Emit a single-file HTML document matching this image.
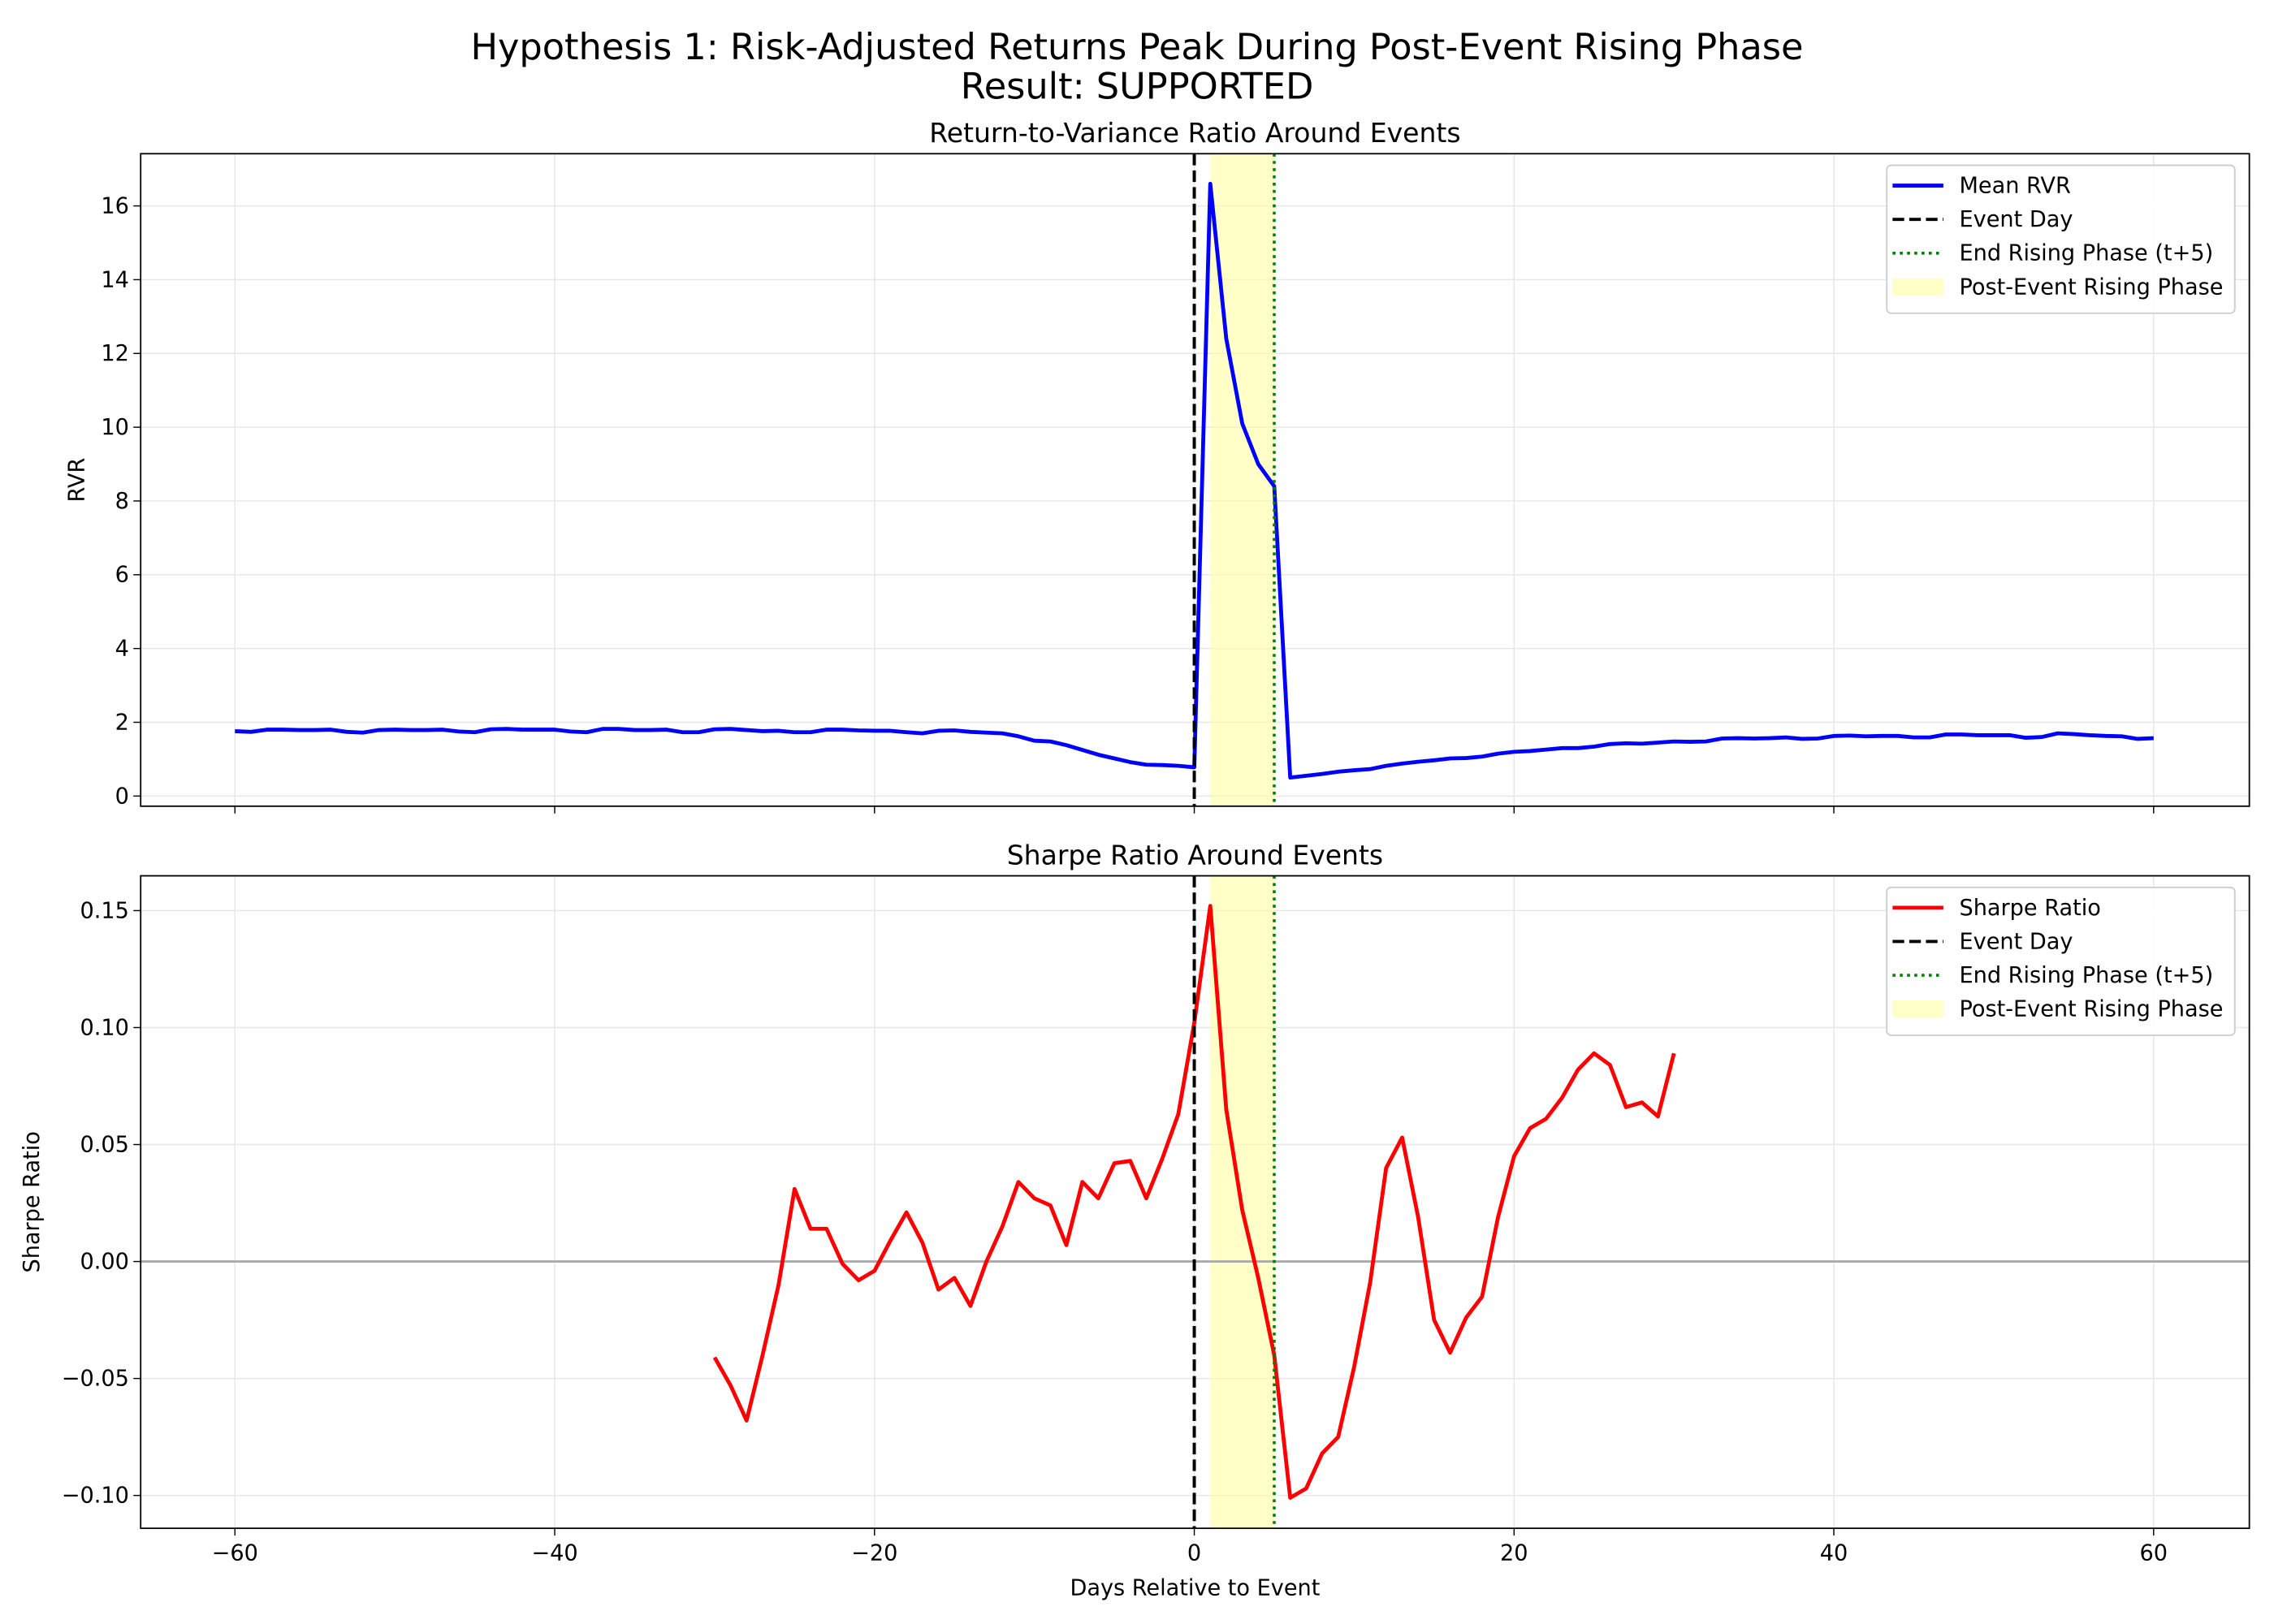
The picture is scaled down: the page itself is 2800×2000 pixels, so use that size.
<!DOCTYPE html>
<html><head><meta charset="utf-8"><style>
html,body{margin:0;padding:0;background:#fff}
svg{display:block;font-family:"DejaVu Sans","Liberation Sans",sans-serif}
</style></head><body>
<svg id="chart" width="2800" height="2000" viewBox="0 0 1568 1120" xmlns="http://www.w3.org/2000/svg">
<rect width="1568" height="1120" fill="#fff"/>
<text x="784" y="41" font-size="25" text-anchor="middle">Hypothesis 1: Risk-Adjusted Returns Peak During Post-Event Rising Phase</text>
<text x="784" y="68" font-size="25" text-anchor="middle">Result: SUPPORTED</text>
<g id="top"></g>
<g id="bot"></g>
</svg>
<script>
const rvrDays = [];
for (let d = -60; d <= 60; d++) rvrDays.push(d);
const rvrValues = [1.76,1.74,1.8,1.8,1.79,1.79,1.8,1.74,1.72,1.79,1.8,1.79,1.79,1.8,1.75,1.73,1.81,1.82,1.8,1.8,1.8,1.75,1.73,1.82,1.82,1.79,1.79,1.8,1.73,1.73,1.81,1.82,1.79,1.76,1.77,1.73,1.73,1.8,1.8,1.78,1.77,1.77,1.73,1.7,1.77,1.78,1.74,1.72,1.7,1.62,1.5,1.48,1.38,1.25,1.12,1.02,0.92,0.85,0.84,0.82,0.78,16.6,12.4,10.1,9.0,8.4,0.5,0.55,0.6,0.66,0.7,0.73,0.82,0.88,0.93,0.97,1.02,1.03,1.07,1.15,1.2,1.22,1.26,1.3,1.3,1.34,1.41,1.43,1.42,1.45,1.48,1.47,1.48,1.56,1.57,1.56,1.57,1.59,1.55,1.56,1.63,1.64,1.62,1.63,1.63,1.59,1.59,1.67,1.67,1.65,1.65,1.65,1.58,1.6,1.7,1.68,1.65,1.63,1.62,1.55,1.57];
const sharpeDays = [];
for (let d = -30; d <= 30; d++) sharpeDays.push(d);
const sharpeValues = [-0.041,-0.053,-0.068,-0.04,-0.01,0.031,0.014,0.014,-0.001,-0.008,-0.004,0.009,0.021,0.008,-0.012,-0.007,-0.019,0.0,0.015,0.034,0.027,0.024,0.007,0.034,0.027,0.042,0.043,0.027,0.044,0.063,0.102,0.152,0.065,0.022,-0.007,-0.04,-0.101,-0.097,-0.082,-0.075,-0.045,-0.009,0.040,0.053,0.019,-0.025,-0.039,-0.024,-0.015,0.019,0.045,0.057,0.061,0.07,0.082,0.089,0.084,0.066,0.068,0.062,0.089];
const xTicks = [-60,-40,-20,0,20,40,60];
const rvrTicks = [0,2,4,6,8,10,12,14,16];
const rvrTickLabels = ["0","2","4","6","8","10","12","14","16"];
const sharpeTicks = [-0.10,-0.05,0.0,0.05,0.10,0.15];
const sharpeTickLabels = ["\u22120.10","\u22120.05","0.00","0.05","0.10","0.15"];
const eventDay = 0, riseStart = 1, riseEnd = 5;

const NS = "http://www.w3.org/2000/svg";
function mk(parent, tag, attrs, text) {
  const e = document.createElementNS(NS, tag);
  for (const k in attrs) e.setAttribute(k, attrs[k]);
  if (text !== undefined) e.textContent = text;
  parent.appendChild(e);
  return e;
}
const L = 97, R = 1551;
const X = d => 823.5 + d * (1485 - 162) / 120;
const FS = 15.2;

function panel(g, top, bottom, yFn, ticks, tickLabels, days, vals, color, seriesName, title, ylabel, ylabelX, showX, legendY, zeroLine) {
  let e;
  for (const t of xTicks) {
    e = mk(g, "line", {x1: X(t), x2: X(t), y1: top, y2: bottom, stroke: "#e6e6e6", "stroke-width": 0.8});
    
    
  }
  ticks.forEach((t, i) => {
    e = mk(g, "line", {x1: L, x2: R, y1: yFn(t), y2: yFn(t), stroke: "#e6e6e6", "stroke-width": 0.8});
    
    
    e = mk(g, "line", {x1: L - 5, x2: L, y1: yFn(t), y2: yFn(t), stroke: "#000", "stroke-width": 0.8});
    
    
    e = mk(g, "text", {x: L - 8, y: yFn(t) + 5, "font-size": FS, "text-anchor": "end"}, tickLabels[i]);
    
    
  });
  e = mk(g, "rect", {x: X(riseStart), y: top, width: X(riseEnd) - X(riseStart), height: bottom - top, fill: "#ffff99", "fill-opacity": 0.55});
  
  
  if (zeroLine) {
    e = mk(g, "line", {x1: L, x2: R, y1: yFn(0), y2: yFn(0), stroke: "#aaa", "stroke-width": 1.6});
    
    
  }
  const pts = days.map((d, i) => X(d).toFixed(2) + "," + yFn(vals[i]).toFixed(2)).join(" ");
  e = mk(g, "polyline", {points: pts, fill: "none", stroke: color, "stroke-width": 2.7, "stroke-linejoin": "round"});
  
  
  e = mk(g, "line", {x1: X(eventDay), x2: X(eventDay), y1: top, y2: bottom, stroke: "#000", "stroke-width": 2.2, "stroke-dasharray": "8,3.5"});
  
  
  e = mk(g, "line", {x1: X(riseEnd), x2: X(riseEnd), y1: top, y2: bottom, stroke: "#008000", "stroke-width": 2, "stroke-dasharray": "2,3"});
  
  
  e = mk(g, "rect", {x: L, y: top, width: R - L, height: bottom - top, fill: "none", stroke: "#000", "stroke-width": 1});
  
  
  for (const t of xTicks) {
    e = mk(g, "line", {x1: X(t), x2: X(t), y1: bottom, y2: bottom + 5, stroke: "#000", "stroke-width": 0.8});
    
    
    if (showX) {
      e = mk(g, "text", {x: X(t), y: bottom + 22, "font-size": FS, "text-anchor": "middle"}, t < 0 ? "\u2212" + Math.abs(t) : String(t));
      
      
    }
  }
  e = mk(g, "text", {x: (L + R) / 2, y: top - 8, "font-size": 18.5, "text-anchor": "middle"}, title);
  
  
  const my = (top + bottom) / 2;
  e = mk(g, "text", {x: ylabelX, y: my, "font-size": FS, "text-anchor": "middle", transform: `rotate(-90 ${ylabelX} ${my})`}, ylabel);
  
  
  const lg = mk(g, "g", {});
  
  
  e = mk(lg, "rect", {x: 1301, y: legendY, width: 240, height: 102, rx: 3, fill: "#fff", "fill-opacity": 0.85, stroke: "#ccc", "stroke-width": 1});
  
  
  const entries = [
    [seriesName === 'rvr-line' ? "Mean RVR" : "Sharpe Ratio", {stroke: color, "stroke-width": 2.7}],
    ["Event Day", {stroke: "#000", "stroke-width": 2.2, "stroke-dasharray": "8,3.5"}],
    ["End Rising Phase (t+5)", {stroke: "#008000", "stroke-width": 2, "stroke-dasharray": "2,3"}],
    ["Post-Event Rising Phase", null]
  ];
  entries.forEach((en, i) => {
    const cy = legendY + 14 + i * 23.3;
    if (en[1]) {
      e = mk(lg, "line", Object.assign({x1: 1305, x2: 1340, y1: cy, y2: cy}, en[1]));
    } else {
      e = mk(lg, "rect", {x: 1305, y: cy - 6, width: 35, height: 12, fill: "#ffff99", "fill-opacity": 0.55});
    }
    
    
    e = mk(lg, "text", {x: 1351, y: cy + 5, "font-size": FS}, en[0]);
    
    
  });
}
const yTop = v => 549 - v * (549 - 142) / 16;
const yBot = v => 870 - v * (870 - 628) / 0.15;
panel(document.getElementById("top"), 106, 556, yTop, rvrTicks, rvrTickLabels, rvrDays, rvrValues, "#0000ff", "rvr-line", "Return-to-Variance Ratio Around Events", "RVR", 58, false, 114, false);
panel(document.getElementById("bot"), 604, 1054, yBot, sharpeTicks, sharpeTickLabels, sharpeDays, sharpeValues, "#ff0000", "sharpe-line", "Sharpe Ratio Around Events", "Sharpe Ratio", 27, true, 612, true);
const xl = mk(document.getElementById("chart"), "text", {x: 824, y: 1100, "font-size": FS, "text-anchor": "middle"}, "Days Relative to Event");


</script>
</body></html>
